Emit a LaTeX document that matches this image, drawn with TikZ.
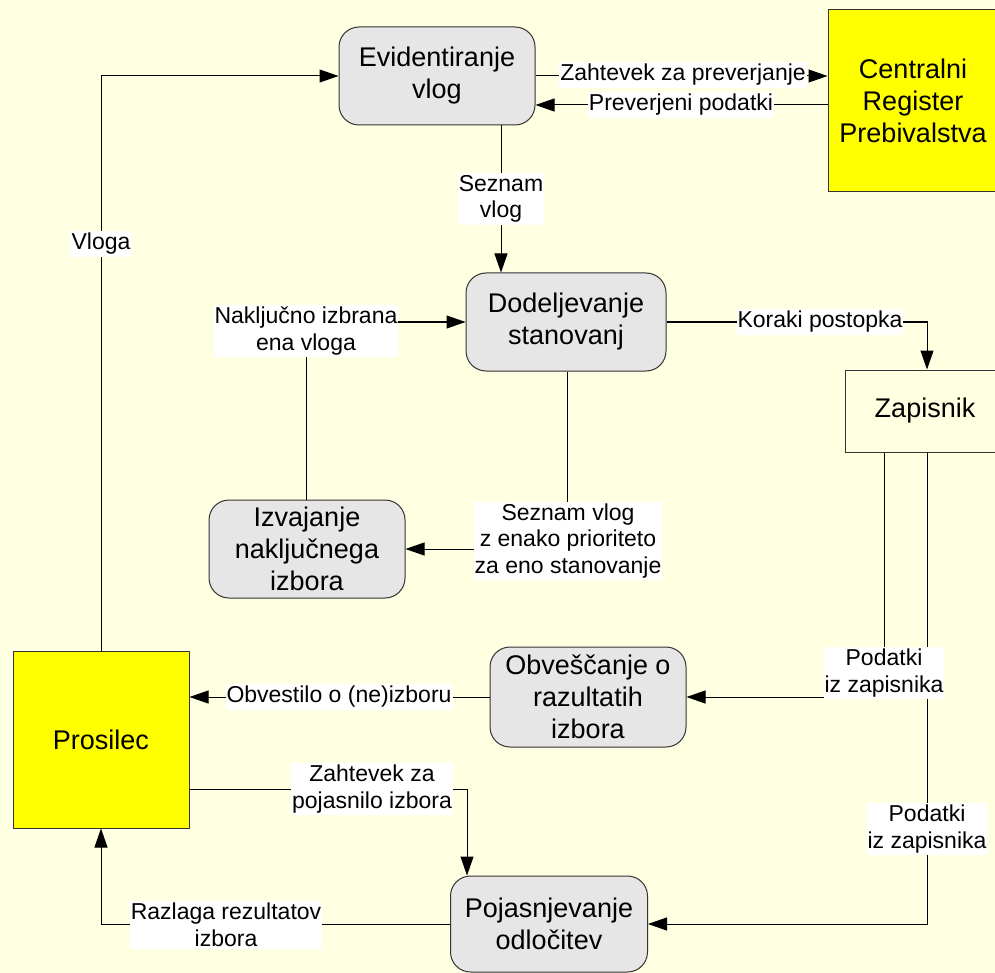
\documentclass[tikz,border=0pt]{standalone}
\usepackage{fontspec}
\setmainfont{Liberation Sans}
\usetikzlibrary{arrows.meta}
\definecolor{bgc}{HTML}{FFFFE1}
\definecolor{procc}{HTML}{E6E6E6}
\definecolor{extc}{HTML}{FFFF00}
\begin{document}
\begin{tikzpicture}[x=1pt,y=-1pt,
  procbox/.style={draw=black!80, line width=1pt, fill=procc, rounded corners=20pt, align=center, font=\fontsize{27}{32}\selectfont, inner sep=0pt},
  extbox/.style={draw=black!80, line width=1pt, fill=extc, align=center, font=\fontsize{27}{32}\selectfont, inner sep=0pt},
  storebox/.style={draw=black!80, line width=1pt, fill=bgc, align=center, font=\fontsize{27}{32}\selectfont, inner sep=0pt},
  lbl/.style={fill=white, align=center, font=\fontsize{23}{26.5}\selectfont, inner xsep=1pt, inner ysep=2pt},
  flow/.style={draw=black, line width=1pt, -{Triangle[length=19pt,width=13pt]}}
]
\fill[bgc] (0,0) rectangle (995,973);
\useasboundingbox (0,0) rectangle (995,973);
\clip (0,0) rectangle (995,973);

% nodes
\node[procbox, minimum width=196pt, minimum height=98pt] (evid) at (437,76) {Evidentiranje\\vlog};
\node[extbox, minimum width=170pt, minimum height=182pt] (crp) at (913,101) {Centralni\\Register\\Prebivalstva};
\node[procbox, minimum width=200pt, minimum height=98pt] (dod) at (566,322) {Dodeljevanje\\stanovanj};
\node[storebox, minimum width=160pt, minimum height=82pt] (zap) at (925,411) {Zapisnik};
\node[procbox, minimum width=196pt, minimum height=98pt] (izv) at (307,549) {Izvajanje\\naključnega\\izbora};
\node[procbox, minimum width=196pt, minimum height=100pt] (obv) at (588,697) {Obveščanje o\\razultatih\\izbora};
\node[extbox, minimum width=176pt, minimum height=177pt] (pros) at (101,739.5) {Prosilec};
\node[procbox, minimum width=197pt, minimum height=96pt] (poj) at (549,924) {Pojasnjevanje\\odločitev};

% helper coordinates
\coordinate (y105) at (0,105);
\coordinate (x501) at (501,0);
\coordinate (x927) at (927,0);
\coordinate (x306) at (306,0);
\coordinate (x567) at (567,0);
\coordinate (x884) at (884,0);
\coordinate (y789) at (0,789);
\coordinate (x467) at (467,0);

% connectors
\draw[flow] (pros.north) |- (evid.west);
\draw[flow] (evid.east) -- (evid.east -| crp.west);
\draw[flow] (crp.west |- y105) -- (evid.east |- y105);
\draw[flow] (evid.south -| x501) -- (dod.north -| x501);
\draw[flow] (dod.east) -| (zap.north -| x927);
\draw[flow] (izv.north -| x306) |- (dod.west);
\draw[flow] (dod.south -| x567) |- (izv.east);
\draw[flow] (zap.south -| x884) |- (obv.east);
\draw[flow] (zap.south -| x927) |- (poj.east);
\draw[flow] (obv.west) -- (pros.east |- obv.west);
\draw[flow] (pros.east |- y789) -| (poj.north -| x467);
\draw[flow] (poj.west) -| (pros.south);

% labels
\node[lbl] (l1) at (101,244) {Vloga};
\node[lbl] (l2) at (683,75) {Zahtevek za preverjanje};
\node[lbl] (l3) at (681,105) {Preverjeni podatki};
\node[lbl] (l4) at (501,199) {Seznam\\vlog};
\node[lbl] (l5) at (820,322) {Koraki postopka};
\node[lbl] (l6) at (306,331) {Naključno izbrana\\ena vloga};
\node[lbl] (l7) at (568,541) {Seznam vlog\\z enako prioriteto\\za eno stanovanje};
\node[lbl] (l8) at (884,673) {Podatki\\iz zapisnika};
\node[lbl] (l9) at (927,829) {Podatki\\iz zapisnika};
\node[lbl] (l10) at (339,697) {Obvestilo o (ne)izboru};
\node[lbl] (l11) at (372,789) {Zahtevek za\\pojasnilo izbora};
\node[lbl] (l12) at (226,925) {Razlaga rezultatov\\izbora};
\end{tikzpicture}
\end{document}
